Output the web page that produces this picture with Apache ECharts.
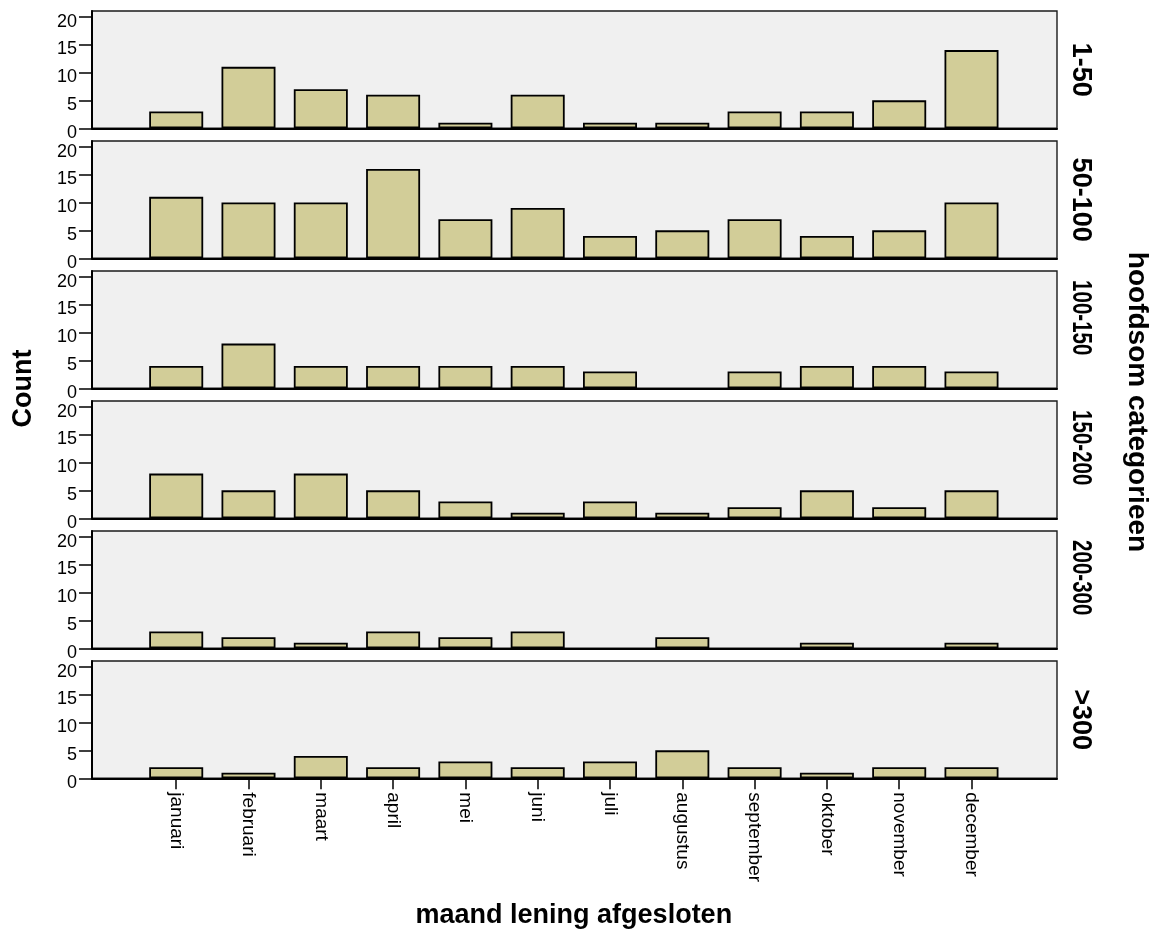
<!DOCTYPE html>
<html>
<head>
<meta charset="utf-8">
<script src="https://cdn.jsdelivr.net/npm/echarts@6/dist/echarts.min.js"></script>
<style>
html,body{margin:0;padding:0;background:#fff;}
#chart{width:1154px;height:938px;}
</style>
</head>
<body>
<div id="chart"></div>
<script>
// ---- data ----
const months = ['januari','februari','maart','april','mei','juni','juli','augustus','september','oktober','november','december'];
const groups = ['1-50','50-100','100-150','150-200','200-300','>300'];
const count_1_50    = [3, 11, 7, 6, 1, 6, 1, 1, 3, 3, 5, 14];
const count_50_100  = [11, 10, 10, 16, 7, 9, 4, 5, 7, 4, 5, 10];
const count_100_150 = [4, 8, 4, 4, 4, 4, 3, 0, 3, 4, 4, 3];
const count_150_200 = [8, 5, 8, 5, 3, 1, 3, 1, 2, 5, 2, 5];
const count_200_300 = [3, 2, 1, 3, 2, 3, 0, 2, 0, 1, 0, 1];
const count_300plus = [2, 1, 4, 2, 3, 2, 3, 5, 2, 1, 2, 2];
const yTicks = [0, 5, 10, 15, 20];
const yMax = 21;
const xTitle = 'maand lening afgesloten';
const yTitle = 'Count';
const stripTitle = 'hoofdsom categorieen';

const groupValues = [count_1_50, count_50_100, count_100_150, count_150_200, count_200_300, count_300plus];

// ---- layout / style ----
const FONT = '"Liberation Sans", Arial, Helvetica, sans-serif';
const firstTop = 11, step = 130, panelH = 117.3;
const frameLeft = 92, frameWidth = 965;
const bandW = 72.3, firstCenter = 176.2;
const barsLeft = firstCenter - bandW / 2, barsWidth = bandW * months.length;
const stripSqueeze = [1, 1, 0.76, 0.76, 0.76, 1];
const stripFontSize = 27;

const measureCtx = document.createElement('canvas').getContext('2d');
function textWidth(t, font) { measureCtx.font = font; return measureCtx.measureText(t).width; }

const grids = [], xAxes = [], yAxes = [], series = [], graphics = [];
groups.forEach((g, i) => {
  const top = firstTop + i * step;
  const last = i === groups.length - 1;
  grids.push({left: frameLeft, width: frameWidth, top: top, height: panelH, show: true,
    backgroundColor: '#f0f0f0', borderColor: '#1a1a1a', borderWidth: 1.4});
  grids.push({left: barsLeft, width: barsWidth, top: top, height: panelH, show: false});

  xAxes.push({gridIndex: 2 * i, type: 'value', min: 0, max: 1,
    axisLine: {show: true, lineStyle: {color: '#000', width: 2}},
    axisTick: {show: false}, axisLabel: {show: false}, splitLine: {show: false}});
  xAxes.push({gridIndex: 2 * i + 1, type: 'category', data: months, boundaryGap: true,
    axisLine: {show: false},
    axisTick: {show: last, alignWithLabel: true, length: 11, lineStyle: {color: '#000', width: 1.5}},
    axisLabel: {show: last, interval: 0, rotate: -90, margin: 14, fontSize: 19, color: '#000', fontFamily: FONT},
    splitLine: {show: false},
    name: last ? xTitle : '', nameLocation: 'middle', nameGap: 124,
    nameTextStyle: {fontSize: 27, fontWeight: 'bold', color: '#000', fontFamily: FONT}});

  yAxes.push({gridIndex: 2 * i, type: 'value', min: 0, max: yMax,
    axisLine: {show: true, lineStyle: {color: '#000', width: 2}},
    axisTick: {show: true, length: 13, customValues: yTicks, lineStyle: {color: '#000', width: 1.5}},
    axisLabel: {customValues: yTicks, margin: 15, fontSize: 18, color: '#000', fontFamily: FONT,
      verticalAlign: 'top', lineHeight: 10},
    splitLine: {show: false}});
  yAxes.push({gridIndex: 2 * i + 1, type: 'value', min: 0, max: yMax, show: false});

  series.push({type: 'bar', name: g, xAxisIndex: 2 * i + 1, yAxisIndex: 2 * i + 1,
    data: groupValues[i].map(v => (v === 0 ? '-' : v)), barWidth: 54, silent: true,
    itemStyle: {color: '#d2cd98', borderColor: '#000', borderWidth: 1.8}});

  // strip label on the right (reads top to bottom)
  const sFont = 'bold ' + stripFontSize + 'px ' + FONT;
  const natural = textWidth(g, sFont);
  const center = top + panelH / 2;
  graphics.push({type: 'text', x: 1080.5, y: center - natural / 2, rotation: -Math.PI / 2,
    scaleX: stripSqueeze[i], scaleY: 1, silent: true,
    style: {text: g, font: sFont, fill: '#000', align: 'left', verticalAlign: 'middle',
      textAlign: 'left', textVerticalAlign: 'middle'}});
});

graphics.push({type: 'text', x: 23.6, y: 388.5, rotation: Math.PI / 2, silent: true,
  style: {text: yTitle, font: 'bold 27px ' + FONT, fill: '#000', align: 'center', verticalAlign: 'middle',
    textAlign: 'center', textVerticalAlign: 'middle'}});
graphics.push({type: 'text', x: 1137, y: 402, rotation: -Math.PI / 2, silent: true,
  style: {text: stripTitle, font: 'bold 28px ' + FONT, fill: '#000', align: 'center', verticalAlign: 'middle',
    textAlign: 'center', textVerticalAlign: 'middle'}});

const chart = echarts.init(document.getElementById('chart'), null, {renderer: 'canvas'});
chart.setOption({
  animation: false,
  backgroundColor: '#fff',
  grid: grids, xAxis: xAxes, yAxis: yAxes, series: series, graphic: graphics
});
</script>
</body>
</html>
